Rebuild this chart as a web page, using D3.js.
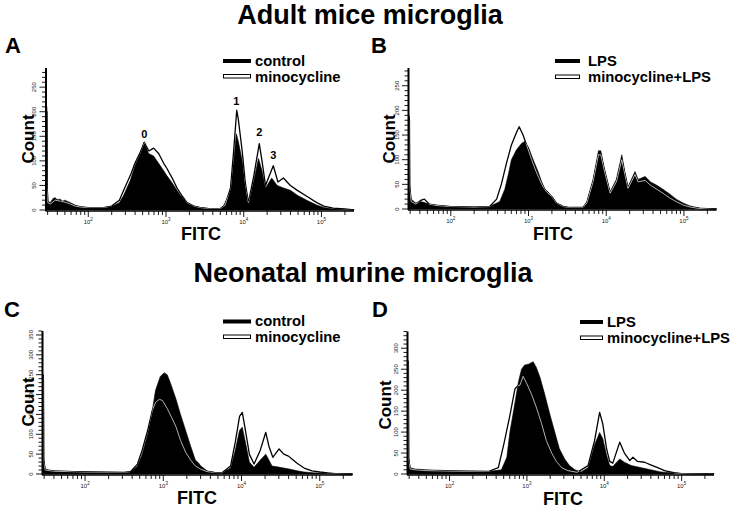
<!DOCTYPE html>
<html><head><meta charset="utf-8">
<script src="https://cdn.jsdelivr.net/npm/d3@7"></script>
<style>body{margin:0;background:#fff} svg{display:block} text{font-family:"Liberation Sans",Arial,Helvetica,sans-serif}</style>
</head><body><svg id="c" width="742" height="509"></svg>
<script>
// ---------------- data ----------------
const titles = ["Adult mice microglia", "Neonatal murine microglia"];
const panelLetters = ["A", "B", "C", "D"];
const legendLabels = [["control", "minocycline"], ["LPS", "minocycline+LPS"], ["control", "minocycline"], ["LPS", "minocycline+LPS"]];
const xAxisTitle = "FITC";
const yAxisTitle = "Count";
const xTickExponents = [2, 3, 4, 5];
const yMaxima = [289, 286, 360, 340];
const yLabelMax = [250, 250, 350, 300];
const peakLabels = ["0", "1", "2", "3"];
const peakLabelAt = [[2.72, 146], [3.905, 214], [4.2, 150], [4.38, 103]]; // [log10 FITC, count]

// series as [log10(FITC), count]
const aFilled = [[1.462,210],[1.468,210],[1.472,50],[1.48,18],[1.51,15],[1.55,24],[1.575,25],[1.6,21],[1.64,22],[1.67,18],[1.70,20],[1.74,17],[1.77,15],[1.83,10],[1.9,7],[2.0,5],[2.2,5],[2.3,7],[2.4,15],[2.455,30],[2.54,60],[2.6,90],[2.67,115],[2.72,138],[2.776,115],[2.84,110],[2.905,95],[2.97,80],[3.01,70],[3.08,55],[3.14,40],[3.21,25],[3.27,15],[3.355,8],[3.44,5],[3.55,3],[3.7,3],[3.74,8],[3.83,40],[3.87,100],[3.905,155],[3.93,140],[3.98,100],[4.02,50],[4.06,15],[4.13,60],[4.19,105],[4.235,80],[4.28,45],[4.36,65],[4.43,50],[4.51,45],[4.6,40],[4.69,30],[4.81,20],[4.94,10],[5.03,5],[5.15,2],[5.3,1],[5.42,0]];
const aLine = [[1.462,200],[1.468,200],[1.472,45],[1.48,15],[1.51,12],[1.575,20],[1.64,18],[1.70,16],[1.77,12],[1.83,8],[1.9,6],[2.0,5],[2.2,5],[2.3,8],[2.4,20],[2.455,40],[2.54,70],[2.6,95],[2.67,118],[2.72,138],[2.78,120],[2.84,126],[2.905,115],[2.97,95],[3.01,85],[3.08,65],[3.14,45],[3.21,28],[3.27,15],[3.36,8],[3.44,5],[3.55,3],[3.7,3],[3.76,10],[3.83,45],[3.87,120],[3.91,203],[3.93,185],[3.98,120],[4.02,55],[4.06,15],[4.13,70],[4.2,135],[4.235,100],[4.28,50],[4.33,70],[4.38,90],[4.44,57],[4.51,65],[4.6,50],[4.69,40],[4.81,28],[4.94,15],[5.03,8],[5.15,4],[5.3,2],[5.42,0]];

const bFilled = [[1.462,188],[1.468,188],[1.472,50],[1.49,20],[1.55,12],[1.6,15],[1.64,14],[1.68,12],[1.72,10],[1.82,8],[2.0,5],[2.3,4],[2.5,5],[2.63,15],[2.695,40],[2.74,70],[2.78,100],[2.845,120],[2.91,133],[2.95,137],[3.0,125],[3.06,100],[3.125,75],[3.17,55],[3.21,40],[3.25,35],[3.30,25],[3.36,12],[3.45,5],[3.53,3],[3.7,3],[3.75,15],[3.83,60],[3.9,118],[3.93,118],[3.98,80],[4.05,35],[4.13,60],[4.2,110],[4.24,75],[4.28,45],[4.37,76],[4.41,60],[4.5,66],[4.57,55],[4.65,48],[4.73,40],[4.82,30],[4.9,20],[4.99,12],[5.08,6],[5.2,2],[5.42,0]];
const bLine = [[1.462,180],[1.468,180],[1.472,45],[1.49,15],[1.55,10],[1.62,18],[1.66,20],[1.72,10],[1.82,7],[2.0,5],[2.3,4],[2.5,5],[2.59,20],[2.65,50],[2.72,95],[2.78,130],[2.845,155],[2.88,167],[2.93,150],[2.975,130],[3.04,100],[3.10,75],[3.17,50],[3.23,35],[3.3,25],[3.36,12],[3.45,5],[3.53,3],[3.7,3],[3.75,12],[3.83,55],[3.9,110],[3.93,110],[3.98,75],[4.05,32],[4.13,55],[4.2,100],[4.24,70],[4.28,42],[4.37,70],[4.41,55],[4.5,58],[4.57,48],[4.65,40],[4.73,32],[4.82,22],[4.9,15],[4.99,8],[5.08,4],[5.2,1],[5.42,0]];

const cFilled = [[1.462,250],[1.468,250],[1.472,40],[1.49,12],[1.6,8],[1.8,7],[2.0,5],[2.5,4],[2.58,5],[2.67,20],[2.73,50],[2.8,100],[2.86,160],[2.9,210],[2.96,245],[3.01,255],[3.05,250],[3.09,230],[3.16,190],[3.22,150],[3.285,110],[3.35,70],[3.41,35],[3.45,28],[3.48,20],[3.56,8],[3.65,4],[3.75,3],[3.86,15],[3.92,60],[3.975,110],[4.01,118],[4.05,80],[4.1,30],[4.16,17],[4.24,35],[4.31,50],[4.35,35],[4.39,20],[4.455,18],[4.54,15],[4.625,12],[4.71,8],[4.8,5],[4.92,3],[5.1,1],[5.42,0]];
const cLine = [[1.462,240],[1.468,240],[1.472,35],[1.49,10],[1.6,7],[1.8,6],[2.0,5],[2.5,4],[2.58,6],[2.67,25],[2.73,60],[2.8,110],[2.86,160],[2.9,180],[2.95,188],[2.99,185],[3.05,165],[3.1,145],[3.16,120],[3.22,85],[3.285,55],[3.35,35],[3.41,20],[3.48,12],[3.56,6],[3.65,4],[3.75,3],[3.86,20],[3.92,80],[3.975,145],[4.01,155],[4.05,110],[4.1,50],[4.16,25],[4.24,60],[4.31,105],[4.35,70],[4.4,42],[4.48,63],[4.54,50],[4.6,45],[4.66,35],[4.71,27],[4.8,15],[4.9,8],[5.0,5],[5.1,3],[5.2,1],[5.42,0]];

const dFilled = [[1.462,270],[1.468,270],[1.472,40],[1.49,15],[1.55,12],[1.7,10],[2.0,8],[2.5,6],[2.67,10],[2.74,40],[2.78,100],[2.845,170],[2.89,220],[2.93,250],[2.97,260],[3.02,262],[3.08,268],[3.12,255],[3.17,230],[3.23,190],[3.30,140],[3.36,100],[3.42,60],[3.49,35],[3.55,20],[3.62,10],[3.70,5],[3.79,15],[3.875,70],[3.94,99],[3.98,85],[4.03,45],[4.07,20],[4.11,18],[4.2,36],[4.26,28],[4.35,20],[4.48,15],[4.6,10],[4.73,5],[4.86,3],[5.0,1],[5.42,0]];
const dLine = [[1.462,260],[1.468,260],[1.472,35],[1.49,12],[1.55,10],[1.7,8],[2.0,7],[2.5,6],[2.63,15],[2.7,70],[2.78,140],[2.845,203],[2.88,210],[2.91,212],[2.95,233],[3.0,215],[3.06,190],[3.12,160],[3.19,120],[3.25,80],[3.32,50],[3.38,30],[3.45,15],[3.53,8],[3.65,4],[3.79,20],[3.875,80],[3.94,147],[3.98,120],[4.03,60],[4.07,30],[4.11,26],[4.2,76],[4.26,50],[4.33,32],[4.37,40],[4.43,30],[4.52,28],[4.6,22],[4.69,15],[4.78,8],[4.9,3],[5.0,1],[5.42,0]];

const filledSeries = [aFilled, bFilled, cFilled, dFilled];
const lineSeries = [aLine, bLine, cLine, dLine];

// ---------------- layout ----------------
const panels = [
  {x0: 46.5, x1: 354,   yb: 210, yt: 68,    letter: [5, 53],   count: [33.5, 139], fitc: [201, 240], leg: {bx: 223, bw: 28, tx: 255, y1: 65.5, y2: 81.5}},
  {x0: 409,  x1: 716.5, yb: 209, yt: 68,    letter: [371, 53], count: [394.5, 139], fitc: [553, 240], leg: {bx: 555, bw: 25, tx: 588, y1: 65.5, y2: 82}},
  {x0: 43,   x1: 352.5, yb: 474, yt: 331,   letter: [4, 317],  count: [33.5, 402], fitc: [197, 504], leg: {bx: 223, bw: 28, tx: 255, y1: 326, y2: 342}},
  {x0: 408,  x1: 714,   yb: 474, yt: 331.5, letter: [372, 317], count: [391, 405], fitc: [563, 505], leg: {bx: 580, bw: 23, tx: 607, y1: 326.5, y2: 343}}
];

const svg = d3.select("#c");
svg.append("rect").attr("width", 742).attr("height", 509).attr("fill", "#fff");

svg.append("text").attr("x", 370).attr("y", 24).attr("text-anchor", "middle")
  .attr("font-size", 27).attr("font-weight", "bold").text(titles[0]);
svg.append("text").attr("x", 363).attr("y", 282).attr("text-anchor", "middle")
  .attr("font-size", 27).attr("font-weight", "bold").text(titles[1]);

panels.forEach((p, i) => {
  const g = svg.append("g");
  const x = d3.scaleLog().domain([29, 262144]).range([p.x0, p.x1]);
  const y = d3.scaleLinear().domain([0, yMaxima[i]]).range([p.yb, p.yt]);
  const px = d => x(Math.pow(10, d[0]));
  const area = d3.area().x(px).y0(p.yb).y1(d => y(d[1]));
  const line = d3.line().x(px).y(d => y(d[1]));

  const clipId = "clip" + i;
  g.append("clipPath").attr("id", clipId).append("path").attr("d", area(filledSeries[i]));

  g.append("path").attr("d", area(filledSeries[i])).attr("fill", "#000")
    .attr("stroke", "#000").attr("stroke-width", 0.6);
  g.append("path").attr("d", line(lineSeries[i])).attr("fill", "none")
    .attr("stroke", "#000").attr("stroke-width", 1.3).attr("stroke-linejoin", "round");
  g.append("path").attr("d", line(lineSeries[i])).attr("fill", "none")
    .attr("clip-path", `url(#${clipId})`)
    .attr("stroke", "#ddd").attr("stroke-width", 0.8).attr("stroke-linejoin", "round");

  // y axis
  g.append("line").attr("x1", p.x0 - 0.5).attr("x2", p.x0 - 0.5).attr("y1", p.yb + 1).attr("y2", p.yt)
    .attr("stroke", "#000").attr("stroke-width", 2);
  const yTicks = d3.range(0, yMaxima[i] + 0.1, 10);
  yTicks.forEach(t => {
    const major = t % 50 === 0 && t <= yLabelMax[i];
    g.append("line").attr("x1", p.x0 - 1).attr("x2", p.x0 - (major ? 7 : 4.5))
      .attr("y1", y(t)).attr("y2", y(t)).attr("stroke", "#000").attr("stroke-width", 0.9);
    if (major) {
      g.append("text").attr("transform", `translate(${p.x0 - 10.5},${y(t)}) rotate(-90)`)
        .attr("text-anchor", "middle").attr("font-size", 6).attr("fill", "#222").text(t);
    }
  });

  // x axis
  g.append("line").attr("x1", p.x0 - 1).attr("x2", p.x1).attr("y1", p.yb + 1).attr("y2", p.yb + 1)
    .attr("stroke", "#000").attr("stroke-width", 1.4);
  const minor = [];
  for (let e = 1; e <= 5; e++) for (let m = 1; m <= 9; m++) {
    const v = m * Math.pow(10, e);
    if (v >= 29 && v <= 262144) minor.push({v, major: m === 1});
  }
  minor.forEach(t => {
    g.append("line").attr("x1", x(t.v)).attr("x2", x(t.v)).attr("y1", p.yb + 1)
      .attr("y2", p.yb + (t.major ? 7 : 5)).attr("stroke", "#000").attr("stroke-width", 0.9);
  });
  xTickExponents.forEach(e => {
    const t = g.append("text").attr("x", x(Math.pow(10, e))).attr("y", p.yb + 13.5)
      .attr("text-anchor", "middle").attr("font-size", 6).attr("fill", "#222");
    t.append("tspan").text("10");
    t.append("tspan").attr("dy", -3).attr("font-size", 4.5).text(e);
  });

  // axis titles
  g.append("text").attr("transform", `translate(${p.count[0]},${p.count[1]}) rotate(-90)`)
    .attr("text-anchor", "middle").attr("font-size", 17).attr("font-weight", "bold").text(yAxisTitle);
  g.append("text").attr("x", p.fitc[0]).attr("y", p.fitc[1]).attr("text-anchor", "middle")
    .attr("font-size", 18).attr("font-weight", "bold").text(xAxisTitle);

  // panel letter
  g.append("text").attr("x", p.letter[0]).attr("y", p.letter[1])
    .attr("font-size", 22).attr("font-weight", "bold").text(panelLetters[i]);

  // legend
  const L = p.leg;
  g.append("rect").attr("x", L.bx).attr("y", L.y1 - 6.5).attr("width", L.bw).attr("height", 4).attr("fill", "#000");
  g.append("rect").attr("x", L.bx + 0.5).attr("y", L.y2 - 7).attr("width", L.bw - 1).attr("height", 3.5)
    .attr("fill", "#fff").attr("stroke", "#000").attr("stroke-width", 1);
  g.append("text").attr("x", L.tx).attr("y", L.y1).attr("font-size", 14.8).attr("font-weight", "bold").text(legendLabels[i][0]);
  g.append("text").attr("x", L.tx).attr("y", L.y2).attr("font-size", 14.8).attr("font-weight", "bold").text(legendLabels[i][1]);

  if (i === 0) {
    peakLabels.forEach((lab, k) => {
      g.append("text").attr("x", px(peakLabelAt[k])).attr("y", y(peakLabelAt[k][1]))
        .attr("text-anchor", "middle").attr("font-size", 11).attr("font-weight", "bold").text(lab);
    });
  }
});
</script>
</body></html>
